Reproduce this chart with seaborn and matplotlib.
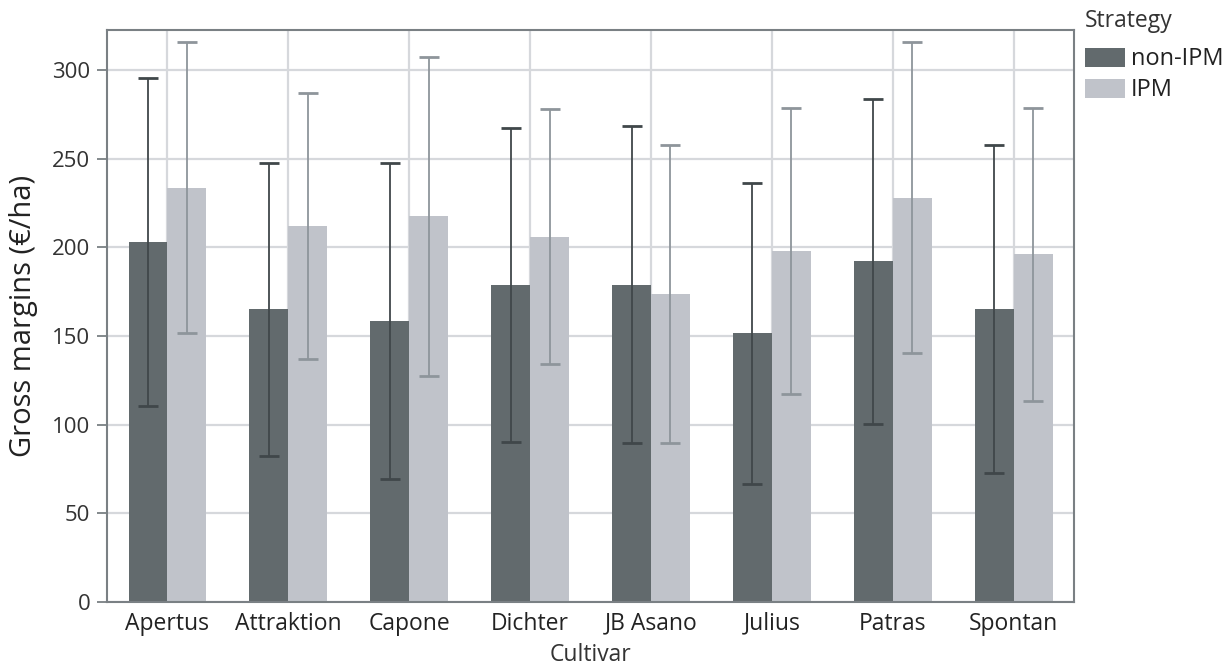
import matplotlib
matplotlib.use("Agg")
import matplotlib.pyplot as plt
import seaborn as sns
import pandas as pd
import numpy as np

cultivars = ["Apertus", "Attraktion", "Capone", "Dichter", "JB Asano", "Julius", "Patras", "Spontan"]
strategies = ["non-IPM", "IPM"]
mean_non_ipm = [203, 165, 158.5, 179, 179, 151.5, 192, 165]
sd_non_ipm = [92.5, 82.5, 89, 88.5, 89.5, 85, 91.5, 92.5]
mean_ipm = [233.5, 212, 217.5, 206, 173.5, 198, 228, 196]
sd_ipm = [82, 75, 90, 72, 84, 80.5, 87.5, 82.5]

bar_colors = {"non-IPM": "#626a6d", "IPM": "#c0c3ca"}
err_colors = {"non-IPM": "#40474a", "IPM": "#8e959b"}

df = pd.DataFrame({
    "Cultivar": cultivars * 2,
    "Strategy": ["non-IPM"] * len(cultivars) + ["IPM"] * len(cultivars),
    "Gross": mean_non_ipm + mean_ipm,
    "SD": sd_non_ipm + sd_ipm,
})

sns.set_theme(style="white")
plt.rcParams["font.family"] = ["Open Sans", "DejaVu Sans"]

fig = plt.figure(figsize=(12.32, 6.69), dpi=100)
ax = fig.add_axes([0.0869, 0.1001, 0.7849, 0.8551])

sns.barplot(data=df, x="Cultivar", y="Gross", hue="Strategy", order=cultivars,
            hue_order=strategies, palette=bar_colors, width=0.645,
            errorbar=None, saturation=1, linewidth=0, ax=ax, zorder=2)

# error bars at the centre of each bar, one container per strategy
for cont, strat in zip(ax.containers, strategies):
    sub = df[df["Strategy"] == strat].set_index("Cultivar").loc[cultivars]
    xs = [p.get_x() + p.get_width() / 2 for p in cont.patches]
    ax.errorbar(xs, sub["Gross"].values, yerr=sub["SD"].values, fmt="none",
                ecolor=err_colors[strat], elinewidth=1.3, capsize=7,
                capthick=2.0, zorder=3)

ax.set_ylim(0, 322.5)
ax.set_xlim(-0.5, len(cultivars) - 0.5)
ax.set_yticks([0, 50, 100, 150, 200, 250, 300])
ax.set_axisbelow(True)
ax.grid(True, axis="both", color="#d6d8dc", linewidth=1.6, zorder=0)

for s in ax.spines.values():
    s.set_color("#7a8084")
    s.set_linewidth(1.5)

ax.tick_params(axis="y", which="major", length=7, width=1.3, color="#7a8084",
               labelsize=16, labelcolor="#333333", pad=5, left=True)
ax.tick_params(axis="x", length=0, labelsize=16.5, labelcolor="#222222", pad=7)
ax.set_xlabel("Cultivar", fontsize=16.5, color="#333333", labelpad=5)
ax.set_ylabel("Gross margins (€/ha)", fontsize=21, color="#222222", labelpad=10)

leg = ax.legend(title="Strategy", loc="upper left", bbox_to_anchor=(1.011, 1.036),
                frameon=False, fontsize=17, title_fontsize=16.5,
                handlelength=1.7, handleheight=0.85, handletextpad=0.25,
                labelspacing=0.3, borderaxespad=0, borderpad=0)
leg._legend_box.align = "left"
leg._legend_box.sep = 10
for t in leg.get_texts():
    t.set_color("#222222")
leg.get_title().set_color("#333333")

fig.savefig("out.png", dpi=100, facecolor="white")
